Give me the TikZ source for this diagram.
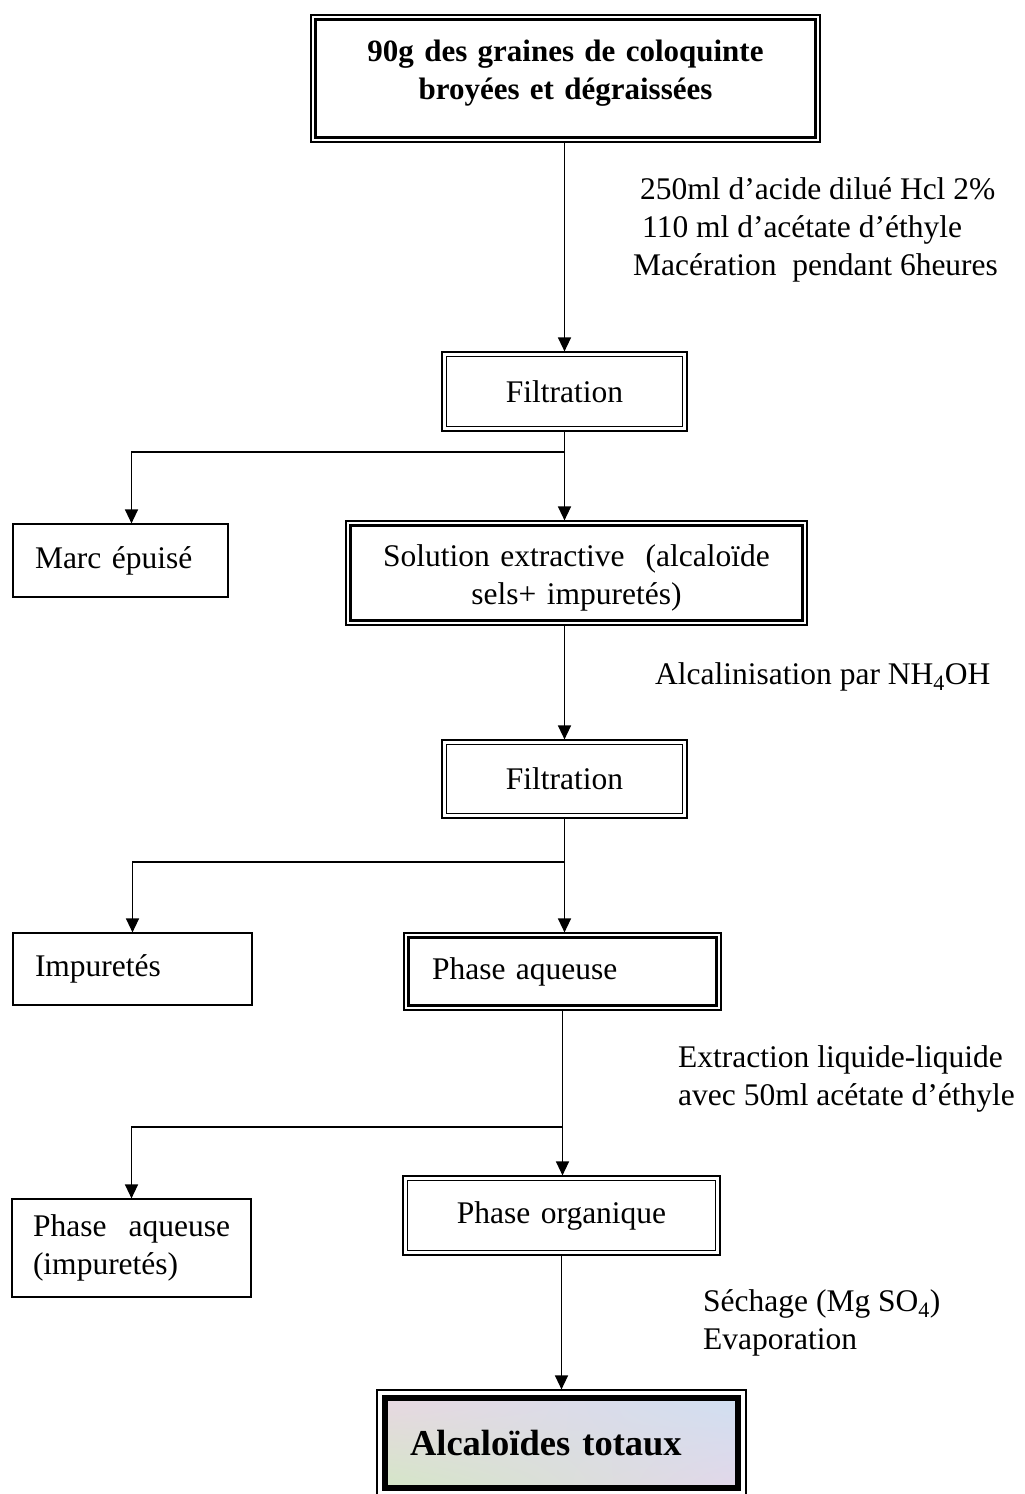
\documentclass[tikz,border=0pt]{standalone}
\usepackage{fontspec}
\setmainfont{Liberation Serif}
\usetikzlibrary{arrows.meta,shadings}

\definecolor{tintA}{RGB}{234,214,228}
\definecolor{tintB}{RGB}{206,224,242}
\definecolor{tintC}{RGB}{210,232,196}
\definecolor{tintD}{RGB}{228,214,234}

\tikzset{
  txt/.style={font=\fontsize{31.5}{38}\selectfont},
  boldtxt/.style={font=\bfseries\fontsize{31}{38}\selectfont},
  box/.style={draw, rectangle, line width=1.2pt, inner ysep=0pt, txt},
  lbl/.style={inner sep=0pt, align=left, txt},
  arr/.style={line width=1.4pt, -{Triangle[length=14pt,width=13pt]}},
}

\begin{document}
\begin{tikzpicture}[x=1pt,y=-1pt]
  \useasboundingbox[fill=white] (0,0) rectangle (1025,1494);

  % --- main column of boxes ---
  \node[box, boldtxt, minimum width=509pt, minimum height=127pt,
        text width=489pt, inner xsep=10pt, align=center, text depth=55pt]
    (top) at (565.5,78.5) {90g des graines de coloquinte\\broyées et dégraissées};
  \node[box, minimum width=245pt, minimum height=79pt,
        text width=225pt, inner xsep=10pt, align=center]
    (fil1) at (564.5,391.5) {Filtration};
  \node[box, minimum width=461pt, minimum height=104pt,
        text width=441pt, inner xsep=10pt, align=center, text depth=35pt]
    (sol) at (576.5,573) {Solution extractive\ \ (alcaloïde\\sels+ impuretés)};
  \node[box, minimum width=245pt, minimum height=78pt,
        text width=225pt, inner xsep=10pt, align=center]
    (fil2) at (564.5,779) {Filtration};
  \node[box, minimum width=317pt, minimum height=77pt,
        text width=261pt, inner xsep=28pt, align=left]
    (paq) at (562.5,971.5) {Phase aqueuse};
  \node[box, minimum width=317pt, minimum height=79pt,
        text width=297pt, inner xsep=10pt, align=center]
    (porg) at (561.5,1215.5) {Phase organique};
  \node[box, font=\bfseries\fontsize{36.5}{40}\selectfont,
        minimum width=369pt, minimum height=106pt,
        text width=303pt, inner xsep=33pt, align=left,
        path picture={
          \shade[upper left=tintA, upper right=tintB,
                 lower left=tintC, lower right=tintD]
            ([shift={(8,8)}]path picture bounding box.north west) rectangle
            ([shift={(-8,-8)}]path picture bounding box.south east);
        }]
    (alc) at (561.5,1443) {Alcaloïdes totaux};

  % --- side boxes ---
  \node[box, minimum width=215pt, minimum height=73pt,
        text width=171pt, inner xsep=22pt, align=left]
    (marc) at (120.5,560.5) {Marc épuisé};
  \node[box, minimum width=239pt, minimum height=72pt,
        text width=195pt, inner xsep=22pt, align=left]
    (imp) at (132.5,969) {Impuretés};
  \node[box, minimum width=239pt, minimum height=98pt,
        text width=197pt, inner xsep=21pt, align=left]
    (paqi) at (131.5,1248) {Phase\hfill aqueuse\\(impuretés)};

  % --- inner frames: thin double frames and thin/thick frames ---
  \foreach \n/\g/\w in {top/5/3.5, fil1/5/1.2, sol/5/3.2, fil2/5/1.2,
                        paq/5/3.6, porg/5/1.2, alc/8.5/6.5}
    \draw[line width=\w pt]
      ([shift={(\g,\g)}]\n.north west) rectangle ([shift={(-\g,-\g)}]\n.south east);

  % --- operation notes ---
  \node[lbl, anchor=west] (op1) at (633,230)
    {\hspace*{7pt}250ml d’acide dilué Hcl 2\%\\
     \hspace*{9pt}110 ml d’acétate d’éthyle\\
     Macération\ \ pendant 6heures};
  \node[lbl, anchor=west] (op2) at (655,677) {Alcalinisation par NH\textsubscript{4}OH};
  \node[lbl, anchor=west] (op3) at (678,1079)
    {Extraction liquide-liquide\\avec 50ml acétate d’éthyle};
  \node[lbl, anchor=west] (op4) at (703,1323)
    {Séchage (Mg SO\textsubscript{4})\\Evaporation};

  % --- branch points ---
  \coordinate (b1) at (565,452);
  \coordinate (b2) at (565,862);
  \coordinate (b3) at (563,1127);

  % --- connectors ---
  \draw[arr] (top.south -| fil1.north) -- (fil1.north);
  \draw[arr] (fil1.south) -- (fil1.south |- sol.north);
  \draw[arr] (b1) -| ([xshift=11pt]marc.north);
  \draw[arr] (sol.south -| fil2.north) -- (fil2.north);
  \draw[arr] (fil2.south) -- (fil2.south |- paq.north);
  \draw[arr] (b2) -| (imp.north);
  \draw[arr] (paq.south) -- (porg.north -| paq.south);
  \draw[arr] (b3) -| (paqi.north);
  \draw[arr] (porg.south) -- (alc.north -| porg.south);
\end{tikzpicture}
\end{document}
